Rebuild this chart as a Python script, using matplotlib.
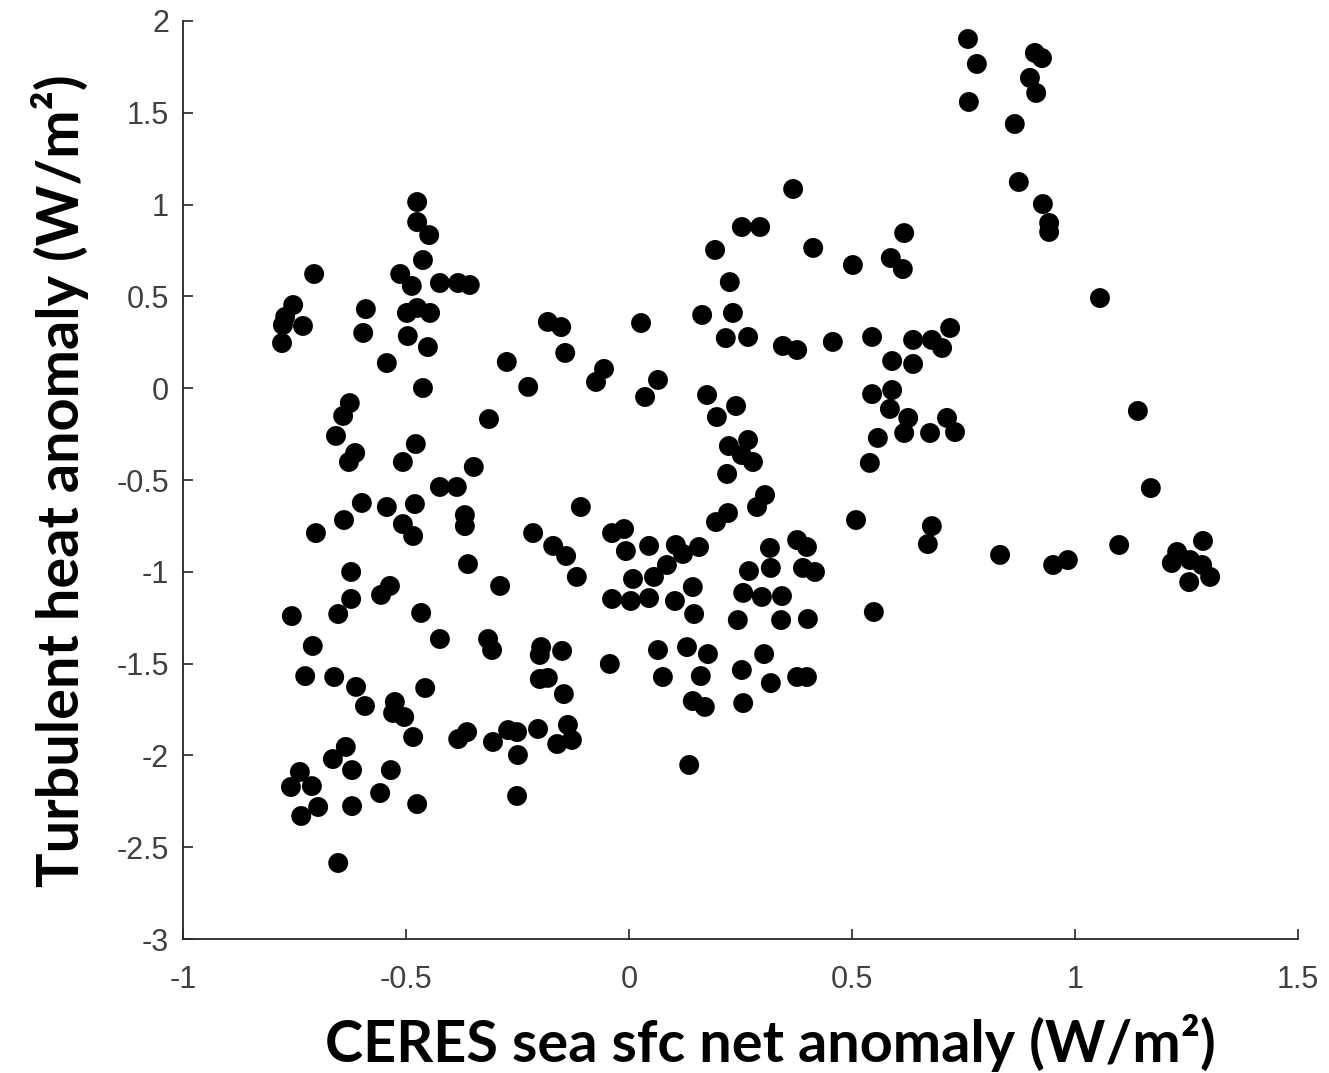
import numpy as np
import matplotlib
matplotlib.use("Agg")
import matplotlib.pyplot as plt

# CERES sea sfc net anomaly (x) vs turbulent heat anomaly (y), W/m^2
x_vals = [
    -0.753, -0.771, -0.776, -0.731, -0.778, -0.706, -0.590, -0.596, -0.543, -0.475,
    -0.475, -0.448, -0.462, -0.513, -0.487, -0.424, -0.383, -0.357, -0.498, -0.475,
    -0.446, -0.496, -0.451, -0.462, -0.274, -0.314, -0.626, -0.641, -0.657,
    -0.614, -0.628, -0.478, -0.507, -0.348, -0.424, -0.386, -0.599, -0.543, -0.480,
    -0.639, -0.702, -0.507, -0.484, -0.368, -0.368, -0.361, -0.289, -0.623, -0.536,
    -0.556, -0.623, -0.756, -0.652, -0.466, -0.709, -0.424, -0.316, -0.307, -0.726,
    -0.661, -0.612, -0.457,
    -0.592, -0.525, -0.529, -0.504, -0.484, -0.383, -0.363, -0.305, -0.271, -0.251,
    -0.249, -0.251, -0.635, -0.664, -0.621, -0.534, -0.738, -0.758, -0.711, -0.558,
    -0.697, -0.735, -0.621, -0.475, -0.652,
    -0.182, -0.152, -0.143, -0.226, -0.056, -0.074, 0.027, 0.065, 0.036, 0.164,
    0.233, 0.217, 0.267, 0.175, 0.240, 0.197, 0.224, 0.267, 0.253, 0.278,
    0.220, 0.305, 0.287, 0.222, 0.195, -0.108, -0.215, -0.170, -0.141, -0.038,
    -0.011, -0.007, 0.045, 0.105, 0.157, 0.316,
    -0.117, 0.121, 0.085, 0.056, 0.009, -0.038, 0.004, 0.045, 0.103, 0.143,
    0.146, 0.269, 0.318, 0.256, 0.298, 0.343, 0.244, 0.341, -0.197, -0.200,
    -0.150, -0.200, -0.182, -0.146, -0.043, 0.065, 0.130, 0.177, 0.076, 0.161,
    0.143, 0.170, 0.253, 0.303, 0.318, 0.256, -0.204, -0.137, -0.161, -0.128,
    0.135,
    0.377, 0.399, 0.390, 0.417, 0.401, 0.377, 0.399, 0.558, 0.540, 0.617,
    0.675, 0.509, 0.679, 0.670, 0.549,
    0.368, 0.253, 0.294, 0.193, 0.413, 0.502, 0.617, 0.587, 0.614, 0.226,
    0.345, 0.377, 0.457, 0.545, 0.590, 0.637, 0.637, 0.679, 0.702, 0.720,
    0.545, 0.590, 0.585, 0.626, 0.713, 0.731,
    0.760, 0.780, 0.762, 0.910, 0.926, 0.899, 0.913, 0.865, 0.874, 0.928,
    0.942, 0.942,
    1.056, 1.141, 1.170, 0.832, 0.951, 0.984, 1.099, 1.287, 1.229, 1.217,
    1.258, 1.285, 1.256, 1.303,
]
y_vals = [
    0.453, 0.388, 0.344, 0.339, 0.246, 0.622, 0.431, 0.301, 0.137, 1.014,
    0.905, 0.834, 0.698, 0.622, 0.557, 0.573, 0.573, 0.562, 0.410, 0.437,
    0.410, 0.284, 0.224, 0.001, 0.143, -0.168, -0.081, -0.151, -0.260,
    -0.353, -0.402, -0.304, -0.402, -0.429, -0.538, -0.538, -0.625, -0.647, -0.631,
    -0.718, -0.789, -0.740, -0.805, -0.691, -0.751, -0.958, -1.077, -1.001, -1.077,
    -1.126, -1.148, -1.241, -1.230, -1.224, -1.404, -1.366, -1.366, -1.426, -1.568,
    -1.573, -1.627, -1.633,
    -1.731, -1.709, -1.769, -1.791, -1.900, -1.911, -1.873, -1.927, -1.862, -1.873,
    -1.998, -2.221, -1.954, -2.020, -2.080, -2.080, -2.090, -2.172, -2.167, -2.205,
    -2.281, -2.330, -2.276, -2.265, -2.586,
    0.361, 0.333, 0.192, 0.007, 0.105, 0.034, 0.355, 0.045, -0.048, 0.399,
    0.410, 0.273, 0.279, -0.037, -0.097, -0.157, -0.315, -0.282, -0.364, -0.402,
    -0.467, -0.582, -0.647, -0.680, -0.729, -0.647, -0.789, -0.859, -0.914, -0.789,
    -0.767, -0.887, -0.859, -0.854, -0.865, -0.870,
    -1.028, -0.903, -0.963, -1.028, -1.039, -1.148, -1.159, -1.143, -1.159, -1.083,
    -1.230, -0.996, -0.979, -1.115, -1.137, -1.132, -1.263, -1.263, -1.410, -1.453,
    -1.431, -1.584, -1.578, -1.666, -1.502, -1.426, -1.410, -1.448, -1.573, -1.568,
    -1.704, -1.736, -1.535, -1.448, -1.606, -1.715, -1.856, -1.834, -1.938, -1.916,
    -2.052,
    -0.827, -0.865, -0.979, -1.001, -1.257, -1.573, -1.573, -0.271, -0.407, -0.244,
    -0.244, -0.718, -0.751, -0.849, -1.219,
    1.085, 0.878, 0.878, 0.753, 0.764, 0.671, 0.845, 0.709, 0.649, 0.578,
    0.230, 0.208, 0.252, 0.279, 0.148, 0.132, 0.263, 0.263, 0.219, 0.328,
    -0.032, -0.010, -0.113, -0.162, -0.162, -0.239,
    1.902, 1.766, 1.559, 1.826, 1.798, 1.690, 1.608, 1.439, 1.123, 1.003,
    0.900, 0.851,
    0.491, -0.124, -0.544, -0.908, -0.963, -0.936, -0.854, -0.832, -0.892, -0.952,
    -0.936, -0.963, -1.056, -1.028,
]
x_ticks = [-1, -0.5, 0, 0.5, 1, 1.5]
x_ticklabels = ["-1", "-0.5", "0", "0.5", "1", "1.5"]
y_ticks = [-3, -2.5, -2, -1.5, -1, -0.5, 0, 0.5, 1, 1.5, 2]
y_ticklabels = ["-3", "-2.5", "-2", "-1.5", "-1", "-0.5", "0", "0.5", "1", "1.5", "2"]

W, H = 1329, 1073
fig = plt.figure(figsize=(W / 100, H / 100), dpi=100)
ax = fig.add_axes([183 / W, 1 - 939 / H, (1298 - 183) / W, (939 - 21) / H])

ax.scatter(x_vals, y_vals, s=205, c="black", edgecolors="none", zorder=3)

ax.set_xlim(-1, 1.5)
ax.set_ylim(-3, 2)
ax.set_xticks(x_ticks)
ax.set_xticklabels(x_ticklabels)
ax.set_yticks(y_ticks)
ax.set_yticklabels(y_ticklabels)

for side in ["top", "right"]:
    ax.spines[side].set_visible(False)
for side in ["left", "bottom"]:
    ax.spines[side].set_color("#262626")
    ax.spines[side].set_linewidth(1.3)

ax.tick_params(axis="both", direction="in", length=7, width=1.2, color="#262626",
               labelcolor="#404040")
ax.tick_params(axis="x", pad=19)
ax.tick_params(axis="y", pad=10)
for lab in ax.get_xticklabels() + ax.get_yticklabels():
    lab.set_fontfamily("Liberation Sans")
    lab.set_fontsize(22)

label_font = dict(family="Lato", weight="bold", size=41.5, color="black")
fig.text(770 / W, 1 - 1062 / H, "CERES sea sfc net anomaly (W/m²)",
         ha="center", va="baseline", **label_font)
fig.text(60 / W, 1 - 481 / H, "Turbulent heat anomaly (W/m²)",
         ha="center", va="center", rotation=90, **label_font)

fig.savefig("out.png", dpi=100)
